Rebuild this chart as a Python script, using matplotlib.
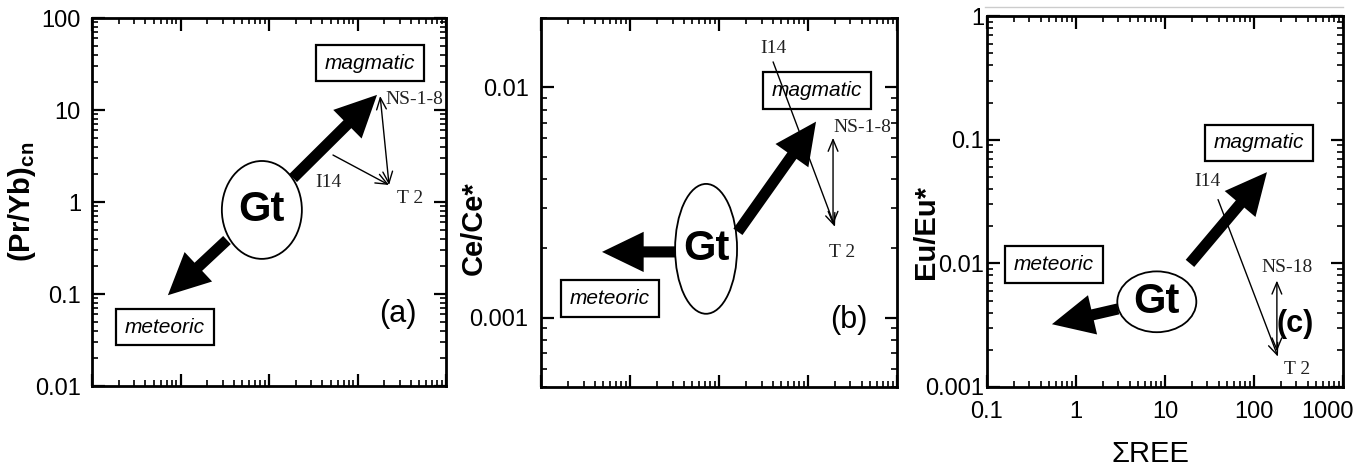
import numpy as np
import matplotlib
matplotlib.use('Agg')
import matplotlib.pyplot as plt
import matplotlib.transforms as mtransforms
from matplotlib.patches import Ellipse
from matplotlib.lines import Line2D
from matplotlib.ticker import LogLocator, NullFormatter, FixedLocator, FixedFormatter

plt.rcParams['font.family'] = ['Liberation Sans', 'DejaVu Sans']

SERIF = ['Liberation Serif', 'DejaVu Serif']

# shared x axis (sum of REE)
x_lim = (0.1, 1000)
x_ticks = [0.1, 1, 10, 100, 1000]
x_tick_labels = ['0.1', '1', '10', '100', '1000']

# panel (a): (Pr/Yb)cn
a_ylim = (0.01, 100)
a_yticks = [0.01, 0.1, 1, 10, 100]
a_ytick_labels = ['0.01', '0.1', '1', '10', '100']
a_gt = (8.3, 0.82)
a_to_magmatic = [(18.7, 1.82), (166, 14.6)]
a_to_meteoric = [(3.35, 0.386), (0.72, 0.097)]
a_i14_t2 = [(52.8, 3.24), (227, 1.53)]
a_ns_t2 = [(180, 14.2), (227, 1.53)]
a_boxes = [('magmatic', 138, 32.4), ('meteoric', 0.668, 0.0437)]
a_samples = [('NS-1-8', 435, 12.9), ('I14', 46.5, 1.61), ('T 2', 392, 1.08)]
a_tag = ('(a)', 287, 0.0607)

# panel (b): Ce/Ce*
b_ylim = (0.0005, 0.02)
b_yticks = [0.001, 0.01]
b_ytick_labels = ['0.001', '0.01']
b_gt = (7.15, 0.00199)
b_to_magmatic = [(16.3, 0.00236), (123, 0.0071)]
b_to_meteoric = [(3.2, 0.00193), (0.484, 0.00193)]
b_i14_t2 = [(40.5, 0.0129), (201, 0.00248)]
b_ns_t2 = [(191, 0.00604), (191, 0.00253)]
b_boxes = [('magmatic', 126, 0.0097), ('meteoric', 0.596, 0.00121)]
b_samples = [('NS-1-8', 405, 0.00668), ('I14', 40.5, 0.0147), ('T 2', 241, 0.00191)]
b_tag = ('(b)', 289, 0.00098)

# panel (c): Eu/Eu*
c_ylim = (0.001, 1)
c_yticks = [0.001, 0.01, 0.1, 1]
c_ytick_labels = ['0.001', '0.01', '0.1', '1']
c_gt = (8.1, 0.00489)
c_to_magmatic = [(19.1, 0.01), (140, 0.0547)]
c_to_meteoric = [(2.97, 0.00428), (0.537, 0.00322)]
c_i14_t2 = [(39.5, 0.0328), (186, 0.00176)]
c_ns_t2 = [(181, 0.00726), (181, 0.00194)]
c_boxes = [('magmatic', 114, 0.0945), ('meteoric', 0.566, 0.0098)]
c_samples = [('NS-18', 235, 0.00927), ('I14', 29.7, 0.0461), ('T 2', 304, 0.00138)]
c_tag = ('(c)', 288, 0.00322)


def style_axes(ax, ylim, yticks, ylabels, show_x, ypad=7):
    ax.set_xscale('log')
    ax.set_yscale('log')
    ax.set_xlim(*x_lim)
    ax.set_ylim(*ylim)
    ax.xaxis.set_major_locator(FixedLocator(x_ticks))
    ax.xaxis.set_minor_locator(LogLocator(base=10, subs=np.arange(2, 10), numticks=20))
    ax.yaxis.set_major_locator(FixedLocator(yticks))
    ax.yaxis.set_major_formatter(FixedFormatter(ylabels))
    ax.yaxis.set_minor_locator(LogLocator(base=10, subs=np.arange(2, 10), numticks=20))
    ax.yaxis.set_minor_formatter(NullFormatter())
    ax.xaxis.set_minor_formatter(NullFormatter())
    if show_x:
        ax.xaxis.set_major_formatter(FixedFormatter(x_tick_labels))
    else:
        ax.xaxis.set_major_formatter(NullFormatter())
    ax.tick_params(which='both', direction='in', top=True, right=True)
    ax.tick_params(which='major', length=9, width=1.6, labelsize=17)
    ax.tick_params(axis='y', which='major', pad=ypad)
    ax.tick_params(axis='x', which='major', pad=10)
    ax.tick_params(which='minor', length=4.5, width=1.2)
    for sp in ax.spines.values():
        sp.set_linewidth(2.0)


def draw_content(ax, gt, gt_size, up, down, i14, ns, boxes, samples, tag, tag_bold=False):
    # Gt ellipse, sized in axes fraction around a data centre
    cx, cy = ax.transAxes.inverted().transform(ax.transData.transform(gt))
    ax.add_patch(Ellipse((cx, cy), gt_size[0], gt_size[1], transform=ax.transAxes,
                         fill=False, ec='black', lw=1.3, zorder=3))
    ax.text(gt[0], gt[1], 'Gt', ha='center', va='center', fontsize=30,
            fontweight='bold', zorder=4)
    big = 'simple,head_length=30,head_width=29,tail_width=8'
    for tail, tip in (up, down):
        ax.annotate('', xy=tip, xytext=tail,
                    arrowprops=dict(arrowstyle=big, mutation_scale=1, color='black',
                                    shrinkA=0, shrinkB=0, lw=0))
    ax.annotate('', xy=i14[1], xytext=i14[0],
                arrowprops=dict(arrowstyle='->,head_length=0.6,head_width=0.25',
                                mutation_scale=14, lw=1.0, color='black',
                                shrinkA=0, shrinkB=0))
    ax.annotate('', xy=ns[1], xytext=ns[0],
                arrowprops=dict(arrowstyle='<->,head_length=0.6,head_width=0.25',
                                mutation_scale=14, lw=1.0, color='black',
                                shrinkA=0, shrinkB=0))
    for txt, x, y in boxes:
        ax.text(x, y, txt, ha='center', va='center', fontsize=15, style='italic',
                zorder=2,
                bbox=dict(boxstyle='square,pad=0.42', fc='white', ec='black', lw=1.6))
    for txt, x, y in samples:
        ax.text(x, y, txt, ha='center', va='center', fontsize=14, family=SERIF,
                color='#222222')
    ax.text(tag[1], tag[2], tag[0], ha='center', va='center', fontsize=22,
            fontweight='bold' if tag_bold else 'normal')


fig = plt.figure(figsize=(13.67, 4.70), dpi=100)

ax_a = fig.add_axes([0.0673, 0.1787, 0.259, 0.783])
style_axes(ax_a, a_ylim, a_yticks, a_ytick_labels, False, ypad=8)
ax_a.set_ylabel('(Pr/Yb)$_{\\mathregular{cn}}$', fontsize=21, fontweight='bold')
ax_a.yaxis.set_label_coords(-0.153, 0.5)
draw_content(ax_a, a_gt, (0.226, 0.266), a_to_magmatic, a_to_meteoric, a_i14_t2, a_ns_t2,
             a_boxes, a_samples, a_tag)

ax_b = fig.add_axes([0.3958, 0.1766, 0.2604, 0.785])
style_axes(ax_b, b_ylim, b_yticks, b_ytick_labels, False, ypad=9)
ax_b.set_ylabel('Ce/Ce*', fontsize=21, fontweight='bold')
ax_b.yaxis.set_label_coords(-0.149, 0.43)
draw_content(ax_b, b_gt, (0.174, 0.352), b_to_magmatic, b_to_meteoric, b_i14_t2, b_ns_t2,
             b_boxes, b_samples, b_tag)

ax_c = fig.add_axes([0.722, 0.1766, 0.2604, 0.789])
style_axes(ax_c, c_ylim, c_yticks, c_ytick_labels, True, ypad=2)
ax_c.set_ylabel('Eu/Eu*', fontsize=21, fontweight='bold')
ax_c.yaxis.set_label_coords(-0.132, 0.418)
ax_c.set_xlabel('ΣREE', fontsize=21)
ax_c.xaxis.set_label_coords(0.46, -0.143)
draw_content(ax_c, c_gt, (0.222, 0.164), c_to_magmatic, c_to_meteoric, c_i14_t2, c_ns_t2,
             c_boxes, c_samples, c_tag, tag_bold=True)

# the last x tick label sits a little left of its tick, inside the frame edge
shift = mtransforms.ScaledTranslation(-11 / 72, 0, fig.dpi_scale_trans)
last = ax_c.xaxis.get_major_ticks()[-1].label1
last.set_transform(last.get_transform() + shift)

# faint scan edge above panel (c)
fig.add_artist(Line2D([0.7205, 0.9824], [0.985, 0.985], color='#cccccc', lw=1.0))

fig.savefig('out.png', dpi=100)
